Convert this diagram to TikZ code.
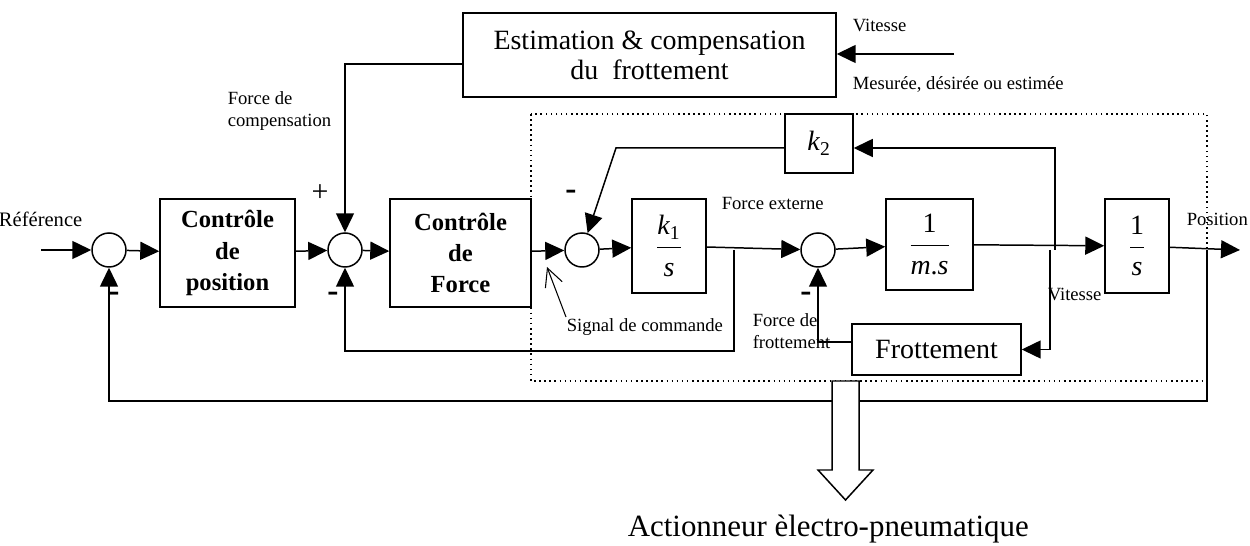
\documentclass[tikz,border=0pt]{standalone}
\usepackage{amsmath}
\usepackage{fontspec}
\setmainfont{Liberation Serif}
\usetikzlibrary{arrows.meta,calc}
\begin{document}
\begin{tikzpicture}[x=0.02cm,y=-0.02cm, line width=0.85pt,
  blk/.style={draw, inner sep=0pt, align=center},
  sumc/.style={draw, circle, minimum size=0.68cm, inner sep=0pt},
  arr/.style={-{Triangle[length=0.38cm,width=0.36cm]}},
  lbl/.style={font=\fontsize{10.6}{12.5}\selectfont, inner sep=0pt, align=left},
  big/.style={font=\fontsize{15.9}{17}\selectfont},
  bld/.style={font=\fontsize{14}{17.8}\selectfont\bfseries},
  sgn/.style={font=\fontsize{19}{20}\selectfont\bfseries, inner sep=0pt},
  dotbox/.style={dotted, line width=0.9pt}]
\useasboundingbox (0,0) rectangle (1250,546);

% dotted actuator box
\draw[dotbox] (531,114) rectangle (1207,381);

% summing junctions
\node[sumc] (s1) at (109,250) {};
\node[sumc] (s2) at (345,250) {};
\node[sumc] (s3) at (582,250) {};
\node[sumc] (s4) at (818,250) {};

% blocks
\node[blk, bld, minimum width=2.7cm, minimum height=2.16cm] (c1) at (227.5,253) {Contrôle\\de\\position};
\node[blk, bld, minimum width=2.82cm, minimum height=2.16cm] (c2) at (460.5,253) {Contrôle\\de\\Force};
\node[blk, big, minimum width=1.48cm, minimum height=1.88cm] (k1) at (669,246) {$\displaystyle\frac{\textit{k}_{\textrm{1}}}{\textit{s}}$};
\node[blk, big, minimum width=1.74cm, minimum height=1.82cm] (ms) at (929.5,244.5) {$\displaystyle\frac{\textrm{1}}{\textit{m}\textrm{.}\textit{s}}$};
\node[blk, big, minimum width=1.28cm, minimum height=1.88cm] (is) at (1137,246) {$\displaystyle\frac{\textrm{1}}{\textit{s}}$};
\node[blk, big, minimum width=1.36cm, minimum height=1.18cm] (k2) at (819,143.5) {\textit{k}$_{\textrm{2}}$};
\node[blk, big, minimum width=7.46cm, minimum height=1.68cm] (est) at (649.5,55) {Estimation \& compensation\\du\ \ frottement};
\node[blk, big, minimum width=3.38cm, minimum height=1.02cm] (fr) at (936.5,349.5) {Frottement};

% helper coordinates
\coordinate (in) at (41,250);
\coordinate (out) at (1240,250);
\coordinate (fb1) at (1207,250);
\coordinate (fb2) at (1207,401);
\coordinate (b1) at (734,250);
\coordinate (b2) at (734,351);
\coordinate (j1) at (1050,250);
\coordinate (j2) at (1055,250);
\coordinate (j2t) at (1055,148);
\coordinate (kb) at (616,148);
\coordinate (f1) at (818,342);
\coordinate (e1) at (345,64);
\coordinate (vin) at (954,54);

% forward path
\draw[arr] (in) -- (s1);
\draw[arr] (s1) -- (c1);
\draw[arr] (c1) -- (s2);
\draw[arr] (s2) -- (c2);
\draw[arr] (c2) -- (s3);
\draw[arr] (s3) -- (k1);
\draw[arr] (k1) -- (s4);
\draw[arr] (s4) -- (ms);
\draw[arr] (ms) -- (is);
\draw[arr] (is) -- (out);

% feedback loops
\draw[arr] (fb1) -- (fb2) -- (s1 |- fb2) -- (s1);
\draw[arr] (b1) -- (b2) -- (s2 |- b2) -- (s2);
\draw[arr] (j1) -- (j1 |- fr.east) -- (fr.east);
\draw[arr] (fr.west |- f1) -- (f1) -- (s4);
\draw[arr] (j2) -- (j2t) -- (k2.east |- j2t);
\draw[arr] (k2.west |- j2t) -- (kb) -- (s3);
\draw[arr] (est.west |- e1) -- (e1) -- (s2);
\draw[arr] (vin) -- (est.east |- vin);

% signal de commande pointer
\coordinate (sc) at (566,317);
\coordinate (sct) at (547,267);
\draw[line width=0.6pt, -{Straight Barb[length=0.36cm,width=0.36cm]}] (sc) -- (sct);

% hollow actuator arrow
\draw[fill=white, line width=0.85pt] (832,381) -- (832,470) -- (818,470) -- (845.5,500) -- (873,470) -- (859,470) -- (859,381) -- cycle;

% labels
\node[lbl, font=\fontsize{11.7}{13}\selectfont, anchor=east] (lref) at (83,219) {Référence};
\node[lbl, anchor=west] (lfc) at (227,111) {Force de\\compensation};
\node[font=\fontsize{17}{18}\selectfont, inner sep=0pt] (lplus) at (320,193) {+};
\node[sgn] (m1) at (114,297) {-};
\node[sgn] (m2) at (333,297) {-};
\node[sgn] (m3) at (571,195) {-};
\node[sgn] (m4) at (806,297) {-};
\node[lbl, anchor=west] (lv1) at (852,25) {Vitesse};
\node[lbl, anchor=west] (lmes) at (852,84) {Mesurée, désirée ou estimée};
\node[lbl, anchor=west] (lfe) at (721,203) {Force externe};
\node[lbl, anchor=west] (lsc) at (566,327) {Signal de commande};
\node[lbl, anchor=west] (lff) at (752,331.5) {Force de\\frottement};
\node[lbl, anchor=west] (lv2) at (1047,294) {Vitesse};
\node[lbl, anchor=west] (lpos) at (1186,219) {Position};
\node[font=\fontsize{17.6}{20}\selectfont, inner sep=0pt, anchor=base west] (lact) at (627,537) {Actionneur èlectro-pneumatique};
\end{tikzpicture}
\end{document}
